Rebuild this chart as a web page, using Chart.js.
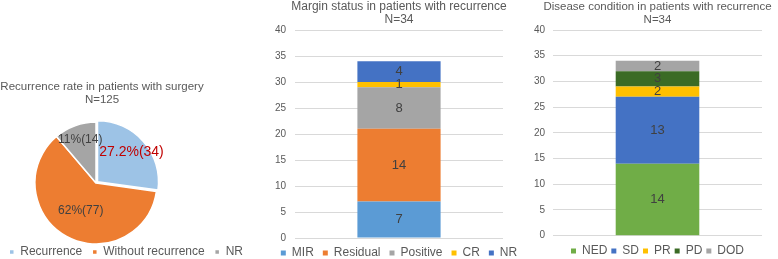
<!DOCTYPE html>
<html>
<head>
<meta charset="utf-8">
<script src="https://cdn.jsdelivr.net/npm/chart.js@4"></script>
<style>
    html, body { margin: 0; padding: 0; background: #fff; }
    body { width: 778px; height: 259px; overflow: hidden; position: relative; }
    canvas { position: absolute; }
    #pieChart { left: -49px; top: 70px; }
    #marginChart { left: 270px; top: 0; }
    #diseaseChart { left: 533px; top: 0; }
</style>
</head>
<body>
<canvas id="pieChart" width="302" height="198"></canvas>
<canvas id="marginChart" width="258" height="269"></canvas>
<canvas id="diseaseChart" width="249" height="267"></canvas>
<script>
// ============================================
// RECURRENCE CHARTS
// Pie of recurrence + two stacked bars for the recurrence group
// ============================================

const pieLabels = ['Recurrence', 'Without recurrence', 'NR'];
const pieCounts = [34, 77, 14];
const pieValueText = ['27.2%(34)', '62%(77)', '11%(14)'];
const pieColors = ['#9DC3E6', '#ED7D31', '#A5A5A5'];

const marginLabels = ['MIR', 'Residual', 'Positive', 'CR', 'NR'];
const marginCounts = [7, 14, 8, 1, 4];
const marginColors = ['#5B9BD5', '#ED7D31', '#A5A5A5', '#FFC000', '#4472C4'];

const diseaseLabels = ['NED', 'SD', 'PR', 'PD', 'DOD'];
const diseaseCounts = [14, 13, 2, 3, 2];
const diseaseColors = ['#70AD47', '#4472C4', '#FFC000', '#3B6B25', '#A5A5A5'];

const yTickMax = 40;
const yTickStep = 5;

const FONT = '"Liberation Sans", Arial, sans-serif';
const TEXT_GREY = '#595959';
const VALUE_GREY = '#404040';

Chart.defaults.font.family = FONT;
Chart.defaults.color = TEXT_GREY;
Chart.defaults.animation = false;
Chart.defaults.devicePixelRatio = 1;

// nudge the pie sideways inside its canvas (title stays centred)
const pieShiftPlugin = {
    id: 'pieShift',
    afterLayout(chart, args, opts) {
        chart.chartArea.left += opts.dx;
        chart.chartArea.right += opts.dx;
    }
};

// value text inside pie slices
const pieValuePlugin = {
    id: 'pieValues',
    afterDatasetsDraw(chart, args, opts) {
        const ctx = chart.ctx;
        ctx.save();
        ctx.textAlign = 'center';
        ctx.textBaseline = 'middle';
        chart.getDatasetMeta(0).data.forEach((arc, i) => {
            const { x, y, startAngle, endAngle, outerRadius } = arc.getProps(['x', 'y', 'startAngle', 'endAngle', 'outerRadius'], true);
            const mid = (startAngle + endAngle) / 2;
            const r = (arc.options.offset || 0) + outerRadius * opts.radius[i];
            ctx.fillStyle = opts.colors[i];
            ctx.font = `${opts.sizes[i]}px ${FONT}`;
            ctx.fillText(pieValueText[i], x + Math.cos(mid) * r, y + Math.sin(mid) * r);
        });
        ctx.restore();
    }
};

// value text centred in each stacked segment
const barValuePlugin = {
    id: 'barValues',
    afterDatasetsDraw(chart) {
        const ctx = chart.ctx;
        ctx.save();
        ctx.font = `13px ${FONT}`;
        ctx.fillStyle = VALUE_GREY;
        ctx.textAlign = 'center';
        ctx.textBaseline = 'middle';
        chart.data.datasets.forEach((ds, i) => {
            chart.getDatasetMeta(i).data.forEach((bar, j) => {
                const { x, y, base } = bar.getProps(['x', 'y', 'base'], true);
                ctx.fillText(ds.data[j], x, (y + base) / 2);
            });
        });
        ctx.restore();
    }
};

new Chart(document.getElementById('pieChart'), {
    type: 'pie',
    data: {
        labels: pieLabels,
        datasets: [{ data: pieCounts, backgroundColor: pieColors, borderColor: '#fff', borderWidth: 1.5, offset: [8, 0, 0], radius: 61 }]
    },
    options: {
        responsive: false,
        plugins: {
            title: { display: true, text: ['Recurrence rate in patients with surgery', 'N=125'], color: TEXT_GREY, font: { size: 11.5, weight: 'normal', lineHeight: 1.15 }, padding: { top: 10.4, bottom: 23.2 } },
            legend: { position: 'bottom', align: 'end', labels: { usePointStyle: true, pointStyle: 'rect', boxWidth: 5, boxHeight: 5, padding: 10, color: TEXT_GREY, font: { size: 12 } } },
            tooltip: { enabled: false },
            pieShift: { dx: -6 },
            pieValues: { radius: [0.64, 0.52, 0.75], colors: ['#C00000', VALUE_GREY, VALUE_GREY], sizes: [14, 12, 12] }
        }
    },
    plugins: [pieShiftPlugin, pieValuePlugin]
});

function makeStackChart(id, labels, counts, colors, title, titleSize, axisWidth, tickPad, legendPad, legendGap) {
    return new Chart(document.getElementById(id), {
        type: 'bar',
        data: {
            labels: [''],
            datasets: labels.map((label, i) => ({ label, data: [counts[i]], backgroundColor: colors[i], borderWidth: 0, barPercentage: 0.5, categoryPercentage: 0.8 }))
        },
        options: {
            responsive: false,
            plugins: {
                title: { display: true, text: title, color: TEXT_GREY, font: { size: titleSize, weight: 'normal', lineHeight: 13.2 / titleSize }, padding: { top: 0, bottom: 3.6 } },
                legend: { position: 'bottom', labels: { usePointStyle: true, pointStyle: 'rect', boxWidth: 5, boxHeight: 5, padding: legendPad, color: TEXT_GREY, font: { size: 12 } } },
                tooltip: { enabled: false }
            },
            scales: {
                // x axis only keeps a gap above the legend
                x: {
                    stacked: true,
                    grid: { display: false }, ticks: { display: false }, border: { display: false },
                    afterFit: s => { s.height = legendGap; }
                },
                y: {
                    stacked: true, min: 0, max: yTickMax,
                    ticks: { stepSize: yTickStep, padding: tickPad, color: TEXT_GREY, font: { size: 10 } },
                    grid: { color: '#D9D9D9', drawTicks: false },
                    border: { display: false },
                    afterFit: s => { s.width = axisWidth; }
                },
                // empty right axis so the plot sits centred under title and legend
                yPad: {
                    type: 'linear', position: 'right',
                    grid: { display: false }, ticks: { display: false }, border: { display: false },
                    afterFit: s => { s.width = axisWidth; }
                }
            }
        },
        plugins: [barValuePlugin]
    });
}

makeStackChart('marginChart', marginLabels, marginCounts, marginColors, ['Margin status in patients with recurrence', 'N=34'], 12, 25, 9, 9, 0);
makeStackChart('diseaseChart', diseaseLabels, diseaseCounts, diseaseColors, ['Disease condition in patients with recurrence', 'N=34'], 11.5, 20, 8, 4, 5.3);
</script>
</body>
</html>
